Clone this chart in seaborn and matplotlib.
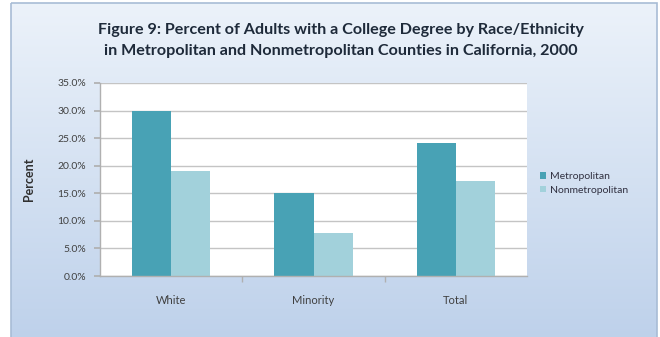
import numpy as np
import pandas as pd
import matplotlib
matplotlib.use("Agg")
import matplotlib.pyplot as plt
from matplotlib.patches import Rectangle
from matplotlib.ticker import FuncFormatter, MultipleLocator
import seaborn as sns

categories = ["White", "Minority", "Total"]
metropolitan = [30.0, 15.0, 24.1]
nonmetropolitan = [19.0, 7.8, 17.3]
series_names = ["Metropolitan", "Nonmetropolitan"]
title_lines = [
    "Figure 9: Percent of Adults with a College Degree by Race/Ethnicity",
    "in Metropolitan and Nonmetropolitan Counties in California, 2000",
]

df = pd.DataFrame({
    "Category": categories * 2,
    "Series": [series_names[0]] * 3 + [series_names[1]] * 3,
    "Value": metropolitan + nonmetropolitan,
})

sns.set_theme(style="white")
plt.rcParams["font.family"] = ["Lato", "DejaVu Sans"]

W, H = 660, 337
fig = plt.figure(figsize=(W / 100, H / 100), dpi=100)
fig.patch.set_facecolor("white")

# panel background: soft vertical blue gradient inside a thin frame
bg = fig.add_axes([0, 0, 1, 1], zorder=0)
bg.set_xlim(0, W)
bg.set_ylim(H, 0)
bg.axis("off")
grad = np.linspace(0, 1, 256).reshape(-1, 1)
top = np.array([0.925, 0.950, 0.980])
bot = np.array([0.745, 0.820, 0.920])
img = top + (bot - top) * grad[..., None]
bg.imshow(img, extent=[11, 657, H + 2, 3], aspect="auto", interpolation="bilinear")
bg.add_patch(Rectangle((11, 3), 646, H, fill=False, edgecolor="#a8bcd6", lw=1.2))

# plot area
x0, x1, y0, y1 = 100, 527, 83, 276
ax = fig.add_axes([x0 / W, 1 - y1 / H, (x1 - x0) / W, (y1 - y0) / H], zorder=1)
ax.set_facecolor("white")

palette = {"Metropolitan": "#48a2b5", "Nonmetropolitan": "#a2d1db"}
sns.barplot(data=df, x="Category", y="Value", hue="Series", palette=palette,
            width=0.55, ax=ax, saturation=1, edgecolor="none", legend=True)

ax.set_ylim(0, 35)
ax.set_xlim(-0.5, 2.5)
ax.yaxis.set_major_locator(MultipleLocator(5))
ax.yaxis.set_major_formatter(FuncFormatter(lambda v, p: f"{v:.1f}%"))
ax.grid(axis="y", color="#c4c4c4", lw=1)
ax.set_axisbelow(True)
for s in ["top", "right"]:
    ax.spines[s].set_visible(False)
for s in ["left", "bottom"]:
    ax.spines[s].set_color("#b0b0b0")
    ax.spines[s].set_linewidth(1)
ax.tick_params(axis="y", length=4, color="#b0b0b0", labelsize=7.5,
               labelcolor="#404040", pad=6, left=True, direction="out")
ax.tick_params(axis="x", length=0, labelsize=8, labelcolor="#404040", pad=14)
ax.set_xticks(range(len(categories)))
ax.set_xticklabels(categories)
# small separators between categories
ax.set_xticks([0.5, 1.5], minor=True)
ax.tick_params(axis="x", which="minor", length=4, color="#b0b0b0", bottom=True)
ax.set_xlabel("")
ax.set_ylabel("Percent", fontsize=9, fontweight="bold", color="#303030", labelpad=16)

leg = ax.legend(loc="center left", bbox_to_anchor=(1.02, 0.48), frameon=False,
                fontsize=7.5, handlelength=0.6, handleheight=0.6,
                handletextpad=0.4, labelspacing=0.45, borderaxespad=0)
for t in leg.get_texts():
    t.set_color("#303040")

fig.text(341 / W, 1 - 30 / H, title_lines[0], ha="center", va="center",
         fontsize=11.6, fontweight="bold", color="#1e2a3a")
fig.text(341 / W, 1 - 51 / H, title_lines[1], ha="center", va="center",
         fontsize=11.6, fontweight="bold", color="#1e2a3a")

fig.savefig("out.png", dpi=100, facecolor="white")
